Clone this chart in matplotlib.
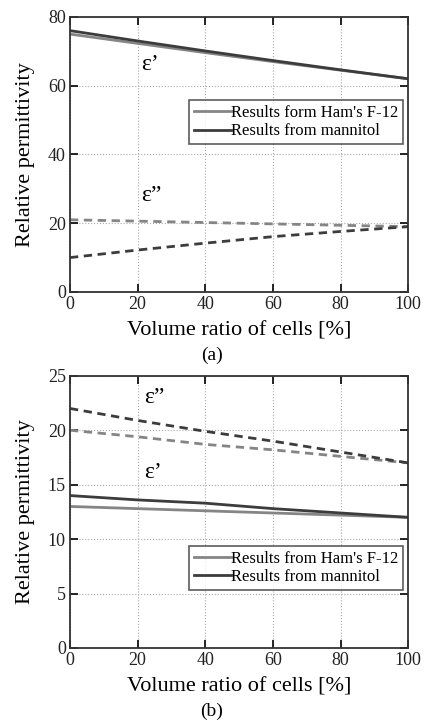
import matplotlib
matplotlib.use("Agg")
import matplotlib.pyplot as plt

plt.rcParams['font.family'] = ['Liberation Serif', 'DejaVu Serif']

x = [0, 20, 40, 60, 80, 100]

# (a)
a_eps1_f12 = [75.0, 72.3, 69.6, 67.0, 64.5, 62.0]
a_eps1_man = [76.0, 73.0, 70.1, 67.3, 64.6, 62.0]
a_eps2_f12 = [21.0, 20.6, 20.2, 19.8, 19.4, 19.0]
a_eps2_man = [10.0, 12.2, 14.2, 16.1, 17.6, 19.0]

# (b)
b_eps1_f12 = [13.0, 12.8, 12.6, 12.4, 12.2, 12.0]
b_eps1_man = [14.0, 13.6, 13.3, 12.8, 12.4, 12.0]
b_eps2_f12 = [20.0, 19.4, 18.7, 18.2, 17.6, 17.0]
b_eps2_man = [22.0, 20.9, 19.9, 19.0, 18.0, 17.0]

c_f12 = '#858585'
c_man = '#3c3c3c'

fig = plt.figure(figsize=(4.24, 7.22), dpi=100)
ax1 = fig.add_axes([0.165, 0.5956, 0.798, 0.381])
ax2 = fig.add_axes([0.165, 0.1025, 0.798, 0.377])


def style(ax, ymax, ystep):
    ax.set_xlim(0, 100)
    ax.set_ylim(0, ymax)
    ax.set_xticks(range(0, 101, 20))
    ax.set_yticks(range(0, ymax + 1, ystep))
    ax.grid(True, ls=':', color='#aaaaaa', lw=0.8)
    ax.tick_params(direction='in', top=True, right=True, length=6, width=1.2,
                   labelsize=13, pad=3, labelcolor='#222222')
    for s in ax.spines.values():
        s.set_linewidth(1.3)
        s.set_color('#333333')
    ax.set_xlabel('Volume ratio of cells [%]', fontsize=16, labelpad=6)
    ax.set_ylabel('Relative permittivity', fontsize=16, labelpad=9)


def add_legend(ax, top):
    leg = ax.legend(loc='upper right', bbox_to_anchor=(0.985, top), fontsize=12,
                    frameon=True, fancybox=False, edgecolor='#333333',
                    handlelength=2.2, handletextpad=0.0, borderpad=0.3,
                    labelspacing=0.15, borderaxespad=0)
    leg.get_frame().set_linewidth(1.2)


# (a)
ax1.plot(x, a_eps1_f12, color=c_f12, lw=2, label="Results form Ham's F-12")
ax1.plot(x, a_eps1_man, color=c_man, lw=2, label='Results from mannitol')
ax1.plot(x, a_eps2_f12, color=c_f12, lw=2, ls=(0, (3, 2)))
ax1.plot(x, a_eps2_man, color=c_man, lw=2, ls=(0, (3, 2)))
style(ax1, 80, 20)
ax1.text(21, 64.5, "\u03b5\u2019", fontsize=17)
ax1.text(21, 26.5, "\u03b5\u201d", fontsize=17)
add_legend(ax1, 0.698)
fig.text(0.5, 0.508, '(a)', ha='center', va='center', fontsize=14)

# (b)
ax2.plot(x, b_eps1_f12, color=c_f12, lw=2, label="Results from Ham's F-12")
ax2.plot(x, b_eps1_man, color=c_man, lw=2, label='Results from mannitol')
ax2.plot(x, b_eps2_f12, color=c_f12, lw=2, ls=(0, (3, 2)))
ax2.plot(x, b_eps2_man, color=c_man, lw=2, ls=(0, (3, 2)))
style(ax2, 25, 5)
ax2.text(22, 15.6, "\u03b5\u2019", fontsize=17)
ax2.text(22, 22.5, "\u03b5\u201d", fontsize=17)
add_legend(ax2, 0.376)
fig.text(0.5, 0.015, '(b)', ha='center', va='center', fontsize=14)

fig.savefig('out.png', dpi=100)
